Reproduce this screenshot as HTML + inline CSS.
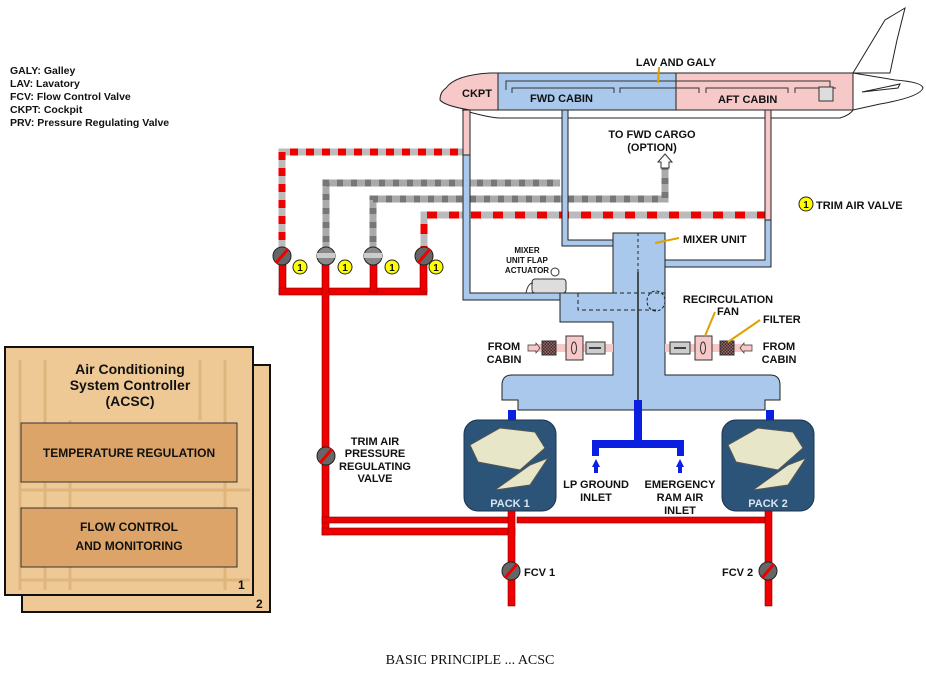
<!DOCTYPE html>
<html><head><meta charset="utf-8"><style>
body{margin:0;background:#fff}
svg{display:block}
text{font-family:"Liberation Sans",Arial,sans-serif;font-weight:bold;fill:#111}
</style></head><body>
<svg width="926" height="673" viewBox="0 0 926 673" xmlns="http://www.w3.org/2000/svg">
<defs>
<pattern id="chk" width="3" height="3" patternUnits="userSpaceOnUse"><rect width="3" height="3" fill="#9b6a6a"/><rect width="1.5" height="1.5" fill="#3a2a2a"/><rect x="1.5" y="1.5" width="1.5" height="1.5" fill="#3a2a2a"/></pattern>
</defs>
<!-- legend -->
<g font-size="10.5">
<text x="10" y="74">GALY: Galley</text>
<text x="10" y="87">LAV: Lavatory</text>
<text x="10" y="100">FCV: Flow Control Valve</text>
<text x="10" y="113">CKPT: Cockpit</text>
<text x="10" y="126">PRV: Pressure Regulating Valve</text>
</g>
<!-- ACSC boxes -->
<rect x="22" y="365" width="248" height="247" fill="#efc995" stroke="#111" stroke-width="2"/>
<rect x="5" y="347" width="248" height="248" fill="#efc995" stroke="#111" stroke-width="2"/>
<g opacity="0.25" stroke="#b07a3a" stroke-width="3" fill="none">
<path d="M20 360 V590 M45 360 V590 M70 420 V590 M200 360 V420 M225 360 V590 M20 490 H250 M20 580 H250"/>
</g>
<text x="130" y="374" font-size="14" text-anchor="middle">Air Conditioning</text>
<text x="130" y="390" font-size="14" text-anchor="middle">System Controller</text>
<text x="130" y="406" font-size="14" text-anchor="middle">(ACSC)</text>
<rect x="21" y="423" width="216" height="59" fill="#dca468" stroke="#333"/>
<text x="129" y="457" font-size="12" text-anchor="middle">TEMPERATURE REGULATION</text>
<rect x="21" y="508" width="216" height="59" fill="#dca468" stroke="#333"/>
<text x="129" y="531" font-size="12" text-anchor="middle">FLOW CONTROL</text>
<text x="129" y="550" font-size="12" text-anchor="middle">AND MONITORING</text>
<text x="238" y="589" font-size="12">1</text>
<text x="256" y="608" font-size="12">2</text>

<!-- aircraft -->
<path d="M853 73 L885 20 L905 8 L897 40 L890 73 Z" fill="#fff" stroke="#222"/>
<path d="M446 88 Q455 75 490 73 L853 73 L853 110 L470 110 Q445 106 440 100 Q440 92 446 88 Z" fill="#f6c8c8" stroke="#222"/>
<path d="M853 73 L895 80 Q922 82 923 88 Q920 97 880 104 L853 110 Z" fill="#fff" stroke="#222"/>
<path d="M462 110 Q490 118 500 118 L840 118 Q850 115 853 110" fill="none" stroke="#222"/>
<path d="M862 92 L900 84 L898 88 Z" fill="#fff" stroke="#222"/>
<rect x="498" y="73" width="178" height="37" fill="#a9c8eb" stroke="#222"/>
<path d="M506 90 V81 H830 V90 M512 93 V88 H614 V93 M620 93 V88 H699 V93 M706 93 V88 H788 V93 M795 93 V88 H836" fill="none" stroke="#333"/>
<rect x="819" y="87" width="14" height="14" fill="#ddd" stroke="#333"/>
<line x1="659" y1="67" x2="658" y2="83" stroke="#e0a000" stroke-width="2"/>
<text x="676" y="66" font-size="11" text-anchor="middle">LAV AND GALY</text>
<text x="462" y="97" font-size="11">CKPT</text>
<text x="530" y="102" font-size="11">FWD CABIN</text>
<text x="718" y="103" font-size="11">AFT CABIN</text>

<!-- hatched ducts -->
<g fill="none" stroke-width="7">
<path d="M282 256 V152 H463" stroke="#bbb"/><path d="M282 256 V152 H463" stroke="#e00" stroke-dasharray="8 8"/>
<path d="M424 256 V215 H765" stroke="#bbb"/><path d="M424 256 V215 H765" stroke="#e00" stroke-dasharray="10 12"/>
<path d="M326 256 V183 H560" stroke="#aaa"/><path d="M326 256 V183 H560" stroke="#777" stroke-dasharray="6 8"/>
<path d="M373 256 V199 H665 V168" stroke="#aaa"/><path d="M373 256 V199 H665 V168" stroke="#777" stroke-dasharray="6 8"/>
</g>
<path d="M661 168 V162 H658 L665 154 L672 162 H669 V168 Z" fill="#fff" stroke="#333"/>
<text x="652" y="138" font-size="11" text-anchor="middle">TO FWD CARGO</text>
<text x="652" y="151" font-size="11" text-anchor="middle">(OPTION)</text>

<!-- blue/pink ducts -->
<g stroke="#222" stroke-width="1">
<path d="M463 110 H470 V293 H613 V300 H463 Z" fill="#a9c8eb"/>
<rect x="463" y="110" width="7" height="45" fill="#f6c8c8"/>
<path d="M562 110 H568 V240 H613 V246 H562 Z" fill="#a9c8eb"/>
<path d="M765 110 H771 V267 H665 V260 H765 Z" fill="#a9c8eb"/>
<rect x="765" y="110" width="6" height="110" fill="#f6c8c8"/>
<!-- mixer -->
<path d="M613 233 H665 V375 H770 Q780 375 780 385 V400 H765 V410 H518 V400 H502 V385 Q502 375 512 375 H613 V322 H560 V293 H613 Z" fill="#a9c8eb"/>
</g>
<rect x="561" y="294" width="51" height="5" fill="#a9c8eb"/>
<line x1="638" y1="233" x2="638" y2="272" stroke="#222" stroke-dasharray="3 3"/>
<line x1="638" y1="272" x2="638" y2="400" stroke="#222" stroke-width="1.5"/>
<path d="M578 293 V310 H660 M578 293 H665" fill="none" stroke="#222" stroke-dasharray="4 3"/>
<ellipse cx="656" cy="301" rx="9" ry="10" fill="none" stroke="#222" stroke-dasharray="3 2"/>
<line x1="655" y1="243" x2="679" y2="238" stroke="#e0a000" stroke-width="2"/>
<text x="683" y="243" font-size="11">MIXER UNIT</text>
<rect x="532" y="279" width="34" height="14" rx="3" fill="#ddd" stroke="#333"/>
<path d="M526 293 Q528 283 533 283" fill="none" stroke="#333"/>
<circle cx="555" cy="272" r="4" fill="#fff" stroke="#333"/>
<text x="527" y="253" font-size="8" text-anchor="middle">MIXER</text>
<text x="527" y="263" font-size="8" text-anchor="middle">UNIT FLAP</text>
<text x="527" y="273" font-size="8" text-anchor="middle">ACTUATOR</text>

<!-- recirc left -->
<rect x="535" y="344" width="78" height="8" fill="#f6c8c8"/>
<path d="M528 345 H536 V343 L540 348 L536 353 V351 H528 Z" fill="#f6c8c8" stroke="#333" stroke-width=".7"/>
<rect x="542" y="341" width="14" height="14" fill="url(#chk)" stroke="#333"/>
<rect x="566" y="336" width="17" height="24" fill="#f6c8c8" stroke="#333"/>
<ellipse cx="574" cy="348" rx="2.5" ry="6" fill="none" stroke="#333"/>
<rect x="586" y="342" width="19" height="12" fill="#ccc" stroke="#333"/>
<line x1="589" y1="348" x2="601" y2="348" stroke="#111" stroke-width="1.5"/>
<text x="504" y="350" font-size="11" text-anchor="middle">FROM</text>
<text x="504" y="363" font-size="11" text-anchor="middle">CABIN</text>
<!-- recirc right -->
<rect x="665" y="344" width="78" height="8" fill="#f6c8c8"/>
<path d="M752 345 H744 V343 L740 348 L744 353 V351 H752 Z" fill="#f6c8c8" stroke="#333" stroke-width=".7"/>
<rect x="720" y="341" width="14" height="14" fill="url(#chk)" stroke="#333"/>
<rect x="695" y="336" width="17" height="24" fill="#f6c8c8" stroke="#333"/>
<ellipse cx="703" cy="348" rx="2.5" ry="6" fill="none" stroke="#333"/>
<rect x="670" y="342" width="20" height="12" fill="#ccc" stroke="#333"/>
<line x1="674" y1="348" x2="686" y2="348" stroke="#111" stroke-width="1.5"/>
<line x1="705" y1="336" x2="715" y2="312" stroke="#e0a000" stroke-width="2"/>
<line x1="728" y1="342" x2="760" y2="320" stroke="#e0a000" stroke-width="2"/>
<text x="728" y="303" font-size="11" text-anchor="middle">RECIRCULATION</text>
<text x="728" y="315" font-size="11" text-anchor="middle">FAN</text>
<text x="763" y="323" font-size="11">FILTER</text>
<text x="779" y="350" font-size="11" text-anchor="middle">FROM</text>
<text x="779" y="363" font-size="11" text-anchor="middle">CABIN</text>
<circle cx="806" cy="204" r="7" fill="#ff0" stroke="#222"/>
<text x="806" y="208" font-size="10" text-anchor="middle">1</text>
<text x="816" y="209" font-size="11">TRIM AIR VALVE</text>

<!-- blue inlet -->
<g fill="#0a1fe0">
<rect x="508" y="410" width="8" height="12"/><rect x="766" y="410" width="8" height="12"/>
<rect x="634" y="400" width="8" height="42"/><rect x="592" y="440" width="92" height="8"/>
<rect x="592" y="440" width="7" height="16"/><rect x="677" y="440" width="7" height="16"/>
<path d="M592 467 L596 459 L600 467 H598 V473 H594 V467 Z"/><path d="M676 467 L680 459 L684 467 H682 V473 H678 V467 Z"/>
</g>
<text x="596" y="488" font-size="11" text-anchor="middle">LP GROUND</text>
<text x="596" y="501" font-size="11" text-anchor="middle">INLET</text>
<text x="680" y="488" font-size="11" text-anchor="middle">EMERGENCY</text>
<text x="680" y="501" font-size="11" text-anchor="middle">RAM AIR</text>
<text x="680" y="514" font-size="11" text-anchor="middle">INLET</text>

<!-- packs -->
<g>
<rect x="464" y="420" width="92" height="91" rx="14" fill="#2c5478" stroke="#1a3350"/>
<path d="M470 445 L500 428 L535 432 L545 448 L520 470 L478 462 Z" fill="#e8e6c8" stroke="#555"/>
<path d="M495 490 L530 465 L548 458 L530 485 Z" fill="#e8e6c8" stroke="#555"/>
<text x="510" y="507" font-size="11" text-anchor="middle" style="fill:#d8e4f0">PACK 1</text>
<rect x="722" y="420" width="92" height="91" rx="14" fill="#2c5478" stroke="#1a3350"/>
<path d="M728 445 L758 428 L793 432 L803 448 L778 470 L736 462 Z" fill="#e8e6c8" stroke="#555"/>
<path d="M753 490 L788 465 L806 458 L788 485 Z" fill="#e8e6c8" stroke="#555"/>
<text x="768" y="507" font-size="11" text-anchor="middle" style="fill:#d8e4f0">PACK 2</text>
</g>

<!-- red lines -->
<g fill="#e00" stroke="#800" stroke-width=".6">
<rect x="279" y="262" width="7" height="32"/>
<rect x="279" y="288" width="148" height="7"/>
<rect x="322" y="262" width="7" height="273"/>
<rect x="370" y="262" width="7" height="30"/>
<rect x="420" y="262" width="7" height="30"/>
<rect x="322" y="528" width="193" height="7"/>
<rect x="322" y="517" width="186" height="6"/>
<rect x="517" y="517" width="254" height="6"/>
<rect x="508" y="511" width="7" height="95"/>
<rect x="765" y="511" width="7" height="95"/>
</g>
<!-- valves -->
<g stroke="#222">
<circle cx="282" cy="256" r="9" fill="#666"/><line x1="276" y1="263" x2="288" y2="249" stroke="#e00" stroke-width="3"/>
<circle cx="326" cy="256" r="9" fill="#888"/><rect x="317" y="253" width="18" height="5" fill="#ccc" stroke="none"/>
<circle cx="373" cy="256" r="9" fill="#888"/><rect x="364" y="253" width="18" height="5" fill="#ccc" stroke="none"/>
<circle cx="424" cy="256" r="9" fill="#666"/><line x1="418" y1="263" x2="430" y2="249" stroke="#e00" stroke-width="3"/>
<circle cx="326" cy="456" r="9" fill="#666"/><line x1="320" y1="463" x2="332" y2="449" stroke="#e00" stroke-width="3"/>
<circle cx="511" cy="571" r="9" fill="#666"/><line x1="505" y1="578" x2="517" y2="564" stroke="#e00" stroke-width="3"/>
<circle cx="768" cy="571" r="9" fill="#666"/><line x1="762" y1="578" x2="774" y2="564" stroke="#e00" stroke-width="3"/>
</g>
<g font-size="10" text-anchor="middle">
<circle cx="300" cy="267" r="7" fill="#ff0" stroke="#222"/><text x="300" y="271">1</text>
<circle cx="345" cy="267" r="7" fill="#ff0" stroke="#222"/><text x="345" y="271">1</text>
<circle cx="392" cy="267" r="7" fill="#ff0" stroke="#222"/><text x="392" y="271">1</text>
<circle cx="436" cy="267" r="7" fill="#ff0" stroke="#222"/><text x="436" y="271">1</text>
</g>
<g font-size="11" text-anchor="middle">
<text x="375" y="445">TRIM AIR</text>
<text x="375" y="457">PRESSURE</text>
<text x="375" y="470">REGULATING</text>
<text x="375" y="482">VALVE</text>
</g>
<text x="524" y="576" font-size="11">FCV 1</text>
<text x="722" y="576" font-size="11">FCV 2</text>

<text x="470" y="664" font-size="14" text-anchor="middle" style="font-family:'Liberation Serif',serif;font-weight:normal">BASIC PRINCIPLE ... ACSC</text>
</svg>
</body></html>
